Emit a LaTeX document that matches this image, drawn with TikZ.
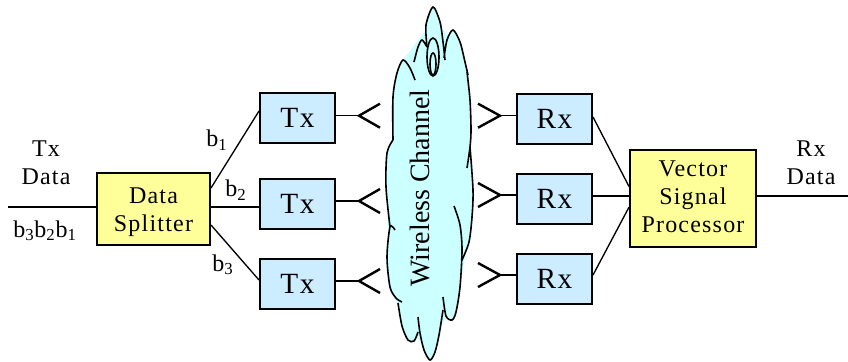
\documentclass[tikz,border=0pt]{standalone}
\usepackage{fontspec}
\setmainfont{Liberation Serif}[LetterSpace=5]
\usetikzlibrary{calc}
\definecolor{boxyellow}{HTML}{FFFF99}
\definecolor{boxblue}{HTML}{CCECFF}
\definecolor{cloudcyan}{HTML}{CCFFFF}
% cloud lobes, all clockwise
\def\cloudlobes{
plot[smooth] coordinates {(393,140) (393,97) (397,73) (403,60) (410,68) (415,80)}
plot[smooth] coordinates {(414,62) (418,47) (422,40) (427,47)}
plot[smooth] coordinates {(427,47) (426,25) (433,7) (440,22) (443,42) (445,60)}
plot[smooth] coordinates {(444,58) (447,40) (453,30) (460,42) (465,62) (468,75)}
plot[smooth] coordinates {(467,72) (470,100) (471,130) (470,147) (467,168)}
plot[smooth] coordinates {(470,147) (473,190) (472,217) (469,242) (462,260)}
plot[smooth] coordinates {(454,206) (460,225) (462,250) (460,287) (456,312) (452,320) (446,316) (443,297)}
plot[smooth] coordinates {(443,310) (439,335) (435,352) (430,360) (424,350) (420,333) (418,317)}
plot[smooth] coordinates {(418,332) (414,341) (408,340) (402,326) (398,303)}
plot[smooth] coordinates {(402,302) (396,298) (390,287) (387,257) (390,227) (395,230)}
plot[smooth] coordinates {(390,227) (386,187) (387,153) (393,140)}
}
\begin{document}
\begin{tikzpicture}[
x=0.75pt,y=-0.75pt,
yblock/.style={draw,line width=1.5pt,fill=boxyellow,inner sep=0pt},
bblock/.style={draw,line width=1.5pt,fill=boxblue,inner sep=0pt,
minimum width=56.25pt,minimum height=37.5pt,font=\fontsize{22}{24}\selectfont},
lbl/.style={align=center,inner sep=0pt,font=\fontsize{18}{21}\selectfont},
wire/.style={line width=1pt},
ant/.style={line width=1.8pt}
]
\useasboundingbox (0,0) rectangle (848,361);
% cloud
\fill[cloudcyan] (393,140) -- (403,60) -- (433,20) -- (453,40) -- (468,75) -- (470,147) -- (472,217)
-- (460,287) -- (430,350) -- (408,330) -- (390,287) -- (387,200) -- cycle;
\fill[cloudcyan] \cloudlobes;
\draw[line width=1.2pt] \cloudlobes;
\draw[line width=1.2pt,fill=cloudcyan] (433,57) ellipse (6 and 19);
\draw[line width=1.2pt] (433,64) ellipse (3 and 11);
\node[rotate=90,inner sep=0pt,font=\fontsize{21}{25}\selectfont\addfontfeature{LetterSpace=0}] (chan) at (420,188) {Wireless Channel};
% blocks
\node[yblock,minimum width=84.75pt,minimum height=54pt,
label={[lbl,yshift=-2.25pt]center:Data\\Splitter}] (split) at (153.5,209) {};
\node[bblock] (tx1) at (297.5,118) {Tx};
\node[bblock] (tx2) at (297.5,204) {Tx};
\node[bblock] (tx3) at (297.5,284) {Tx};
\node[bblock] (rx1) at (554.5,119) {Rx};
\node[bblock] (rx2) at (554.5,199) {Rx};
\node[bblock] (rx3) at (554.5,279) {Rx};
\node[yblock,minimum width=94.5pt,minimum height=72.75pt,
label={[lbl,yshift=1pt]center:Vector\\Signal\\Processor}] (vsp) at (693,198.5) {};
% free ends
\coordinate (txin) at (8,207);
\coordinate (rxout) at (848,196);
\draw[wire] (txin) -- (split.west |- txin);
\draw[wire] (vsp.east |- rxout) -- (rxout);
\draw[wire] ([yshift=15.75pt]split.east) -- ([yshift=5.25pt]tx1.west);
\draw[wire] (split.east |- txin) -- (tx2.west |- txin);
\draw[wire] ([yshift=-12pt]split.east) -- ([yshift=3pt]tx3.west);
\draw[wire] ([yshift=1.5pt]rx1.east) -- ([yshift=9pt]vsp.west);
\draw[wire] (rx2.east |- rxout) -- (vsp.west |- rxout);
\draw[wire] ([yshift=3pt]rx3.east) -- ([yshift=-6.5pt]vsp.west);
% antennas
\foreach \n/\y in {1/115.7,2/201,3/281}{
\coordinate (ta\n) at (359,\y);
\draw[wire] (tx\n.east |- ta\n) -- (ta\n);
\draw[ant] ($(ta\n)+(21,-12)$) -- (ta\n) -- ($(ta\n)+(21,12)$);
}
\foreach \n/\y in {1/115.7,2/195,3/275}{
\coordinate (ra\n) at (500,\y);
\draw[wire] (ra\n) -- (rx\n.west |- ra\n);
\draw[ant] ($(ra\n)+(-22,-12)$) -- (ra\n) -- ($(ra\n)+(-22,12)$);
}
% labels
\node[lbl] (txd) at (46,163) {Tx\\Data};
\node[lbl] (rxd) at (811,163) {Rx\\Data};
\node[lbl] (seq) at (45,231) {b\textsubscript{3}b\textsubscript{2}b\textsubscript{1}};
\node[lbl] (b1) at (217,140) {b\textsubscript{1}};
\node[lbl] (b2) at (236,190) {b\textsubscript{2}};
\node[lbl] (b3) at (223,265) {b\textsubscript{3}};
\end{tikzpicture}
\end{document}
